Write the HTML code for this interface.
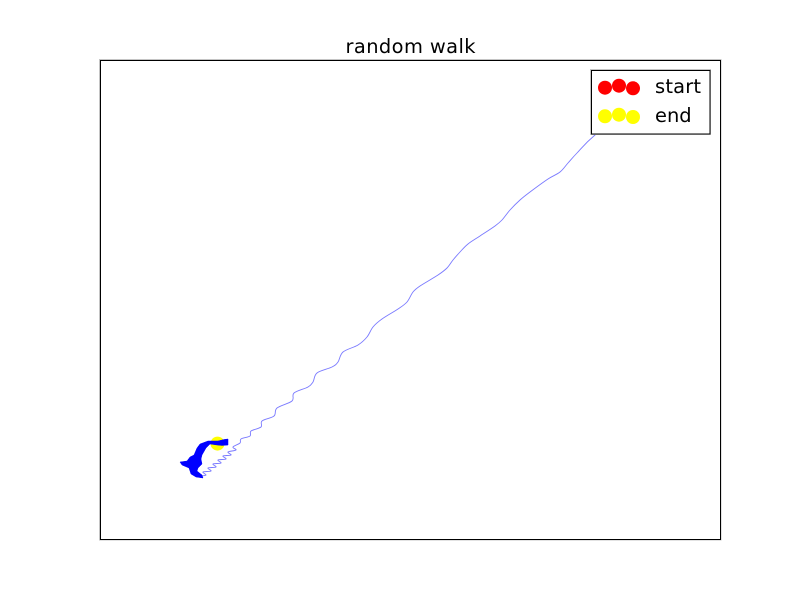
<!DOCTYPE html>
<html>
<head>
<meta charset="utf-8">
<title>random walk</title>
<style>
html,body{margin:0;padding:0;background:#fff;width:800px;height:600px;overflow:hidden}
svg{display:block}
text{font-family:"DejaVu Sans","Liberation Sans",sans-serif;font-size:19.44px;fill:#000}
</style>
</head>
<body>
<svg id="chart" width="800" height="600" viewBox="0 0 800 600" xmlns="http://www.w3.org/2000/svg">
  <rect x="0" y="0" width="800" height="600" fill="#fff"/>
  <rect x="100" y="60" width="620" height="480" fill="#fff"/>
  <g id="marks"></g>
  <rect x="99.5" y="59.5" width="621.5" height="480.5" fill="none" stroke="#c4c4c4" stroke-width="1"/>
  <rect x="100.5" y="60.5" width="620" height="479" fill="none" stroke="#000" stroke-width="1"/>
  <text x="345.5" y="53" textLength="130" lengthAdjust="spacing">random walk</text>
  <g>
    <rect x="590.5" y="69.5" width="120" height="65" fill="none" stroke="#c4c4c4" stroke-width="1"/>
    <rect x="591.5" y="70.5" width="118.5" height="63.5" fill="#fff" stroke="#000" stroke-width="1"/>
    <g>
      <circle cx="605" cy="87.7" r="7" fill="#ff0000"/>
      <circle cx="619" cy="85.7" r="7" fill="#ff0000"/>
      <circle cx="633" cy="88.3" r="7" fill="#ff0000"/>
      <text x="655" y="93" textLength="46" lengthAdjust="spacing">start</text>
    </g>
    <g>
      <circle cx="605" cy="116.3" r="7" fill="#ffff00"/>
      <circle cx="619" cy="114.7" r="7" fill="#ffff00"/>
      <circle cx="633" cy="117" r="7" fill="#ffff00"/>
      <text x="655" y="122">end</text>
    </g>
  </g>
</svg>
<script>
const walkX = [108,99,95.4,93.6,92,89.6,86,84,82,80.4,79,76,73.6,72,70.6,69.4,67.6,64,62.6,61.4,59.6,56.4,54.6,53.4,51.6,48.6,47.6,46.4,43.4,42.6,41.6,38.8,38.4,35.4,34.8,32.4,32.2,30.2,30,28.2,28,26.6,27.2,25.6,26.2,24.6,25.2,23.6,24.2,22.6,23.2,21.6,22.2,20.6,21.2,20.2];
const walkY = [110,101.25,96.75,94.25,92,90.25,87,85,82.5,80,78.5,76,74,72,70,68,66.25,63.5,62,59.5,57.75,55.25,53.25,50.75,48.75,47,44.5,43.25,41.75,39.5,38.25,36.75,34.75,33,31,29.75,28.25,27.25,26,25.25,24.25,23.25,22.5,22,21.25,21,20.25,20,19.25,19,18.25,18,17.25,17,16.25,16];
const clusterX = [21.6,23.6,24.8,25.6,25.6,24.4,23.4,22,21.2,20.4,20.2,20.4,19.6,19.4,20.4,20.6,19.2,18.2,17.8,16.4,16,17.4,18,18.8,19.4,20];
const clusterY = [24.75,24.75,25.125,25.25,23.75,23.625,23.75,24,23,21.25,20.25,19,18,17.25,16.25,15.5,15.75,16.5,18,18.75,19.5,19.75,20.75,21.25,23,24];
const startX = [108];
const startY = [110];
const endX = [23.5];
const endY = [24.1];

const xDomain = [0, 124];
const yDomain = [0, 120];
const plot = {left: 100, right: 720, top: 60, bottom: 540};
function xScale(v) {
  return plot.left + (v - xDomain[0]) / (xDomain[1] - xDomain[0]) * (plot.right - plot.left);
}
function yScale(v) {
  return plot.bottom - (v - yDomain[0]) / (yDomain[1] - yDomain[0]) * (plot.bottom - plot.top);
}
const svgNS = 'http://www.w3.org/2000/svg';
const marks = document.getElementById('marks');
function pointsOf(xs, ys) {
  return xs.map(function (x, i) { return xScale(x).toFixed(2) + ',' + yScale(ys[i]).toFixed(2); }).join(' ');
}
function smoothPath(xs, ys) {
  const px = xs.map(xScale);
  const py = ys.map(yScale);
  let d = 'M' + px[0].toFixed(2) + ' ' + py[0].toFixed(2);
  for (let i = 0; i < px.length - 1; i++) {
    const a = Math.max(i - 1, 0);
    const b = Math.min(i + 2, px.length - 1);
    const c1x = px[i] + (px[i + 1] - px[a]) / 6;
    const c1y = py[i] + (py[i + 1] - py[a]) / 6;
    const c2x = px[i + 1] - (px[b] - px[i]) / 6;
    const c2y = py[i + 1] - (py[b] - py[i]) / 6;
    d += ' C' + c1x.toFixed(2) + ' ' + c1y.toFixed(2) + ' ' + c2x.toFixed(2) + ' ' + c2y.toFixed(2) + ' ' + px[i + 1].toFixed(2) + ' ' + py[i + 1].toFixed(2);
  }
  return d;
}

const endMark = document.createElementNS(svgNS, 'circle');


endMark.setAttribute('cx', xScale(endX[0]));
endMark.setAttribute('cy', yScale(endY[0]));
endMark.setAttribute('r', 7);
endMark.setAttribute('fill', '#ffff00');
marks.appendChild(endMark);

const startMark = document.createElementNS(svgNS, 'circle');


startMark.setAttribute('cx', xScale(startX[0]));
startMark.setAttribute('cy', yScale(startY[0]));
startMark.setAttribute('r', 7);
startMark.setAttribute('fill', '#ff0000');
marks.appendChild(startMark);

const walkLine = document.createElementNS(svgNS, 'path');


walkLine.setAttribute('d', smoothPath(walkX, walkY));
walkLine.setAttribute('fill', 'none');
walkLine.setAttribute('stroke', '#7a7aff');
walkLine.setAttribute('stroke-width', '0.9');
marks.appendChild(walkLine);

const clusterShape = document.createElementNS(svgNS, 'polygon');


clusterShape.setAttribute('points', pointsOf(clusterX, clusterY));
clusterShape.setAttribute('fill', '#0000ff');
clusterShape.setAttribute('stroke', '#0000ff');
clusterShape.setAttribute('stroke-width', '0.5');
marks.appendChild(clusterShape);
</script>
</body>
</html>
